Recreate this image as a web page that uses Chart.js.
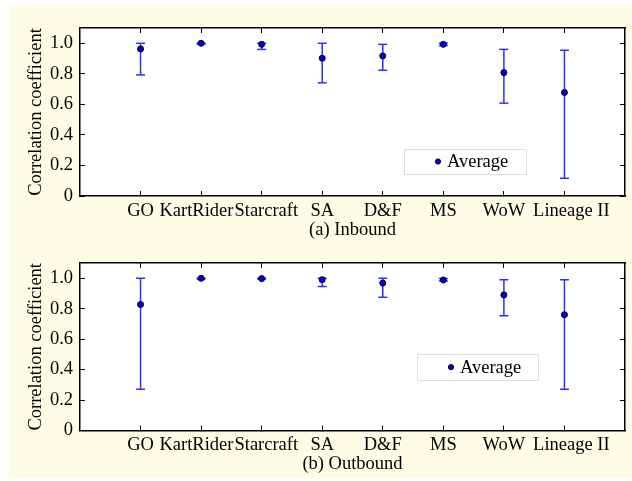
<!DOCTYPE html>
<html><head><meta charset="utf-8">
<script src="https://cdn.jsdelivr.net/npm/chart.js@4.4.0/dist/chart.umd.min.js"></script>
<style>
html,body{margin:0;padding:0;background:#fff;width:632px;height:481px;overflow:hidden;position:relative;}
#bg{position:absolute;left:9px;top:5px;width:623px;height:473px;background:#fdfde5;}
.wrap{position:absolute;left:0;width:632px;}
#w1{top:0;height:241px;}
#w2{top:240px;height:241px;}
canvas{display:block;}
</style></head><body>
<div id="bg"></div>
<div class="wrap" id="w1"><canvas id="c1" width="632" height="241"></canvas></div>
<div class="wrap" id="w2"><canvas id="c2" width="632" height="241"></canvas></div>
<script>
const categories = ['GO','KartRider','Starcraft','SA','D&F','MS','WoW','Lineage II'];
const yTickValues = [0, 0.2, 0.4, 0.6, 0.8, 1.0];
const yTickLabels = ['0','0.2','0.4','0.6','0.8','1.0'];
const yAxisTitle = 'Correlation coefficient';
const legendLabel = 'Average';

const inboundAvg  = [0.963, 1.000, 0.993, 0.902, 0.917, 0.993, 0.808, 0.678];
const inboundHigh = [1.000, 1.000, 1.000, 1.000, 0.993, 1.000, 0.960, 0.954];
const inboundLow  = [0.793, 0.995, 0.960, 0.741, 0.823, 0.985, 0.608, 0.116];

const outboundAvg  = [0.828, 1.000, 0.998, 0.991, 0.969, 0.989, 0.891, 0.761];
const outboundHigh = [1.000, 1.000, 1.000, 1.000, 1.000, 0.998, 0.991, 0.991];
const outboundLow  = [0.271, 0.995, 0.995, 0.946, 0.876, 0.982, 0.754, 0.271];

const titleInbound = '(a) Inbound';
const titleOutbound = '(b) Outbound';

// label spacing (style): leading / trailing spaces to keep neighbouring labels apart
const labelLead  = ['', '', '  ', '', '', '', '', '   '];
const labelTrail = ['', '  ', '', '', '', '', '', ''];

const FONT = {family: '"Liberation Serif", "Times New Roman", serif', size: 18.5};
const BLUE = '#2f2fff';

const plotBg = {
  id: 'plotBg',
  beforeDraw(chart) {
    const {ctx, chartArea: a} = chart;
    ctx.save(); ctx.fillStyle = '#ffffff';
    ctx.fillRect(a.left, a.top, a.right - a.left, a.bottom - a.top);
    ctx.restore();
  }
};

const boxLegend = {
  id: 'boxLegend',
  afterDraw(chart, args, o) {
    const {ctx, chartArea: a} = chart;
    const x = a.left + o.dx, y = a.top + o.dy;
    const ds = chart.data.datasets[0];
    ctx.save();
    ctx.fillStyle = '#ffffff';
    ctx.fillRect(x, y, o.w, o.h);
    ctx.strokeStyle = '#dedede'; ctx.lineWidth = 1;
    ctx.strokeRect(Math.round(x) + 0.5, Math.round(y) + 0.5, o.w, o.h);
    const cy = y + o.h / 2;
    ctx.beginPath(); ctx.arc(x + o.mx, cy, 2.6, 0, Math.PI * 2);
    ctx.fillStyle = ds.pointBackgroundColor; ctx.fill();
    ctx.lineWidth = 1; ctx.strokeStyle = ds.pointBorderColor; ctx.stroke();
    ctx.fillStyle = '#000'; ctx.font = `${FONT.size}px ${FONT.family}`;
    ctx.textBaseline = 'middle'; ctx.textAlign = 'left';
    ctx.fillText(ds.label, x + o.tx, cy + 1);
    ctx.restore();
  }
};

function makeChart(id, avg, hi, lo, title, lay, leg) {
  const xs = categories.map((c, i) => i + 1);
  const errData = [];
  xs.forEach((x, i) => { errData.push({x, y: lo[i]}, {x, y: hi[i]}, {x, y: null}); });
  const avgData = xs.map((x, i) => ({x, y: avg[i]}));
  const setX = s => { s.ticks = xs.map(v => ({value: v})); };
  const setY = s => { s.ticks = yTickValues.map(v => ({value: v})); };
  const gridOpt = {drawOnChartArea: false, drawTicks: true, tickLength: -5, color: '#000', lineWidth: 1};
  const borderOpt = {display: true, color: '#000', width: 1.5};
  return new Chart(document.getElementById(id), {
    type: 'scatter',
    data: {datasets: [
      {type: 'scatter', label: legendLabel, data: avgData, pointRadius: 3,
       pointBackgroundColor: '#0000e0', pointBorderColor: '#000', pointBorderWidth: 1, showLine: false},
      {type: 'line', label: 'range', data: errData, borderColor: BLUE, borderWidth: 1.5,
       pointStyle: 'line', pointRadius: 4.5, pointBorderColor: BLUE, pointBackgroundColor: BLUE,
       pointBorderWidth: 1.5, spanGaps: false, fill: false, tension: 0}
    ]},
    options: {
      responsive: false, animation: false, devicePixelRatio: 1,
      layout: {padding: {left: 0, right: 7, top: lay.top, bottom: lay.bottom}},
      plugins: {legend: {display: false}, tooltip: {enabled: false}, boxLegend: leg},
      scales: {
        x: {type: 'linear', position: 'bottom', min: 0, max: 9, afterBuildTicks: setX,
            afterFit: s => { s.height = 45; },
            grid: gridOpt, border: borderOpt,
            ticks: {font: FONT, color: '#000', padding: 9, maxRotation: 0, minRotation: 0, autoSkip: false,
                    callback: v => (labelLead[v - 1] ?? '') + (categories[v - 1] ?? '') + (labelTrail[v - 1] ?? '')},
            title: {display: true, text: title, font: FONT, color: '#000', padding: {top: 0, bottom: 0}}},
        x2: {type: 'linear', position: 'top', min: 0, max: 9, afterBuildTicks: setX,
             afterFit: s => { s.height = 0; },
             grid: gridOpt, border: borderOpt, ticks: {display: false}},
        y: {type: 'linear', position: 'left', min: 0, max: 1.1, afterBuildTicks: setY,
            afterFit: s => { s.width = 80; },
            grid: gridOpt, border: borderOpt,
            ticks: {font: FONT, color: '#000', padding: 12, callback: (v, i) => yTickLabels[i]},
            title: {display: true, text: yAxisTitle, font: FONT, color: '#000', padding: {top: 25, bottom: 0}}},
        y2: {type: 'linear', position: 'right', min: 0, max: 1.1, afterBuildTicks: setY,
             afterFit: s => { s.width = 0; },
             grid: gridOpt, border: borderOpt, ticks: {display: false}}
      }
    },
    plugins: [plotBg, boxLegend]
  });
}

makeChart('c1', inboundAvg, inboundHigh, inboundLow, titleInbound,
  {top: 28, bottom: 0}, {dx: 324, dy: 121, w: 122, h: 25, mx: 34, tx: 43});
makeChart('c2', outboundAvg, outboundHigh, outboundLow, titleOutbound,
  {top: 23, bottom: 5.5}, {dx: 337, dy: 91, w: 121, h: 26, mx: 34, tx: 43});
</script>
</body></html>
